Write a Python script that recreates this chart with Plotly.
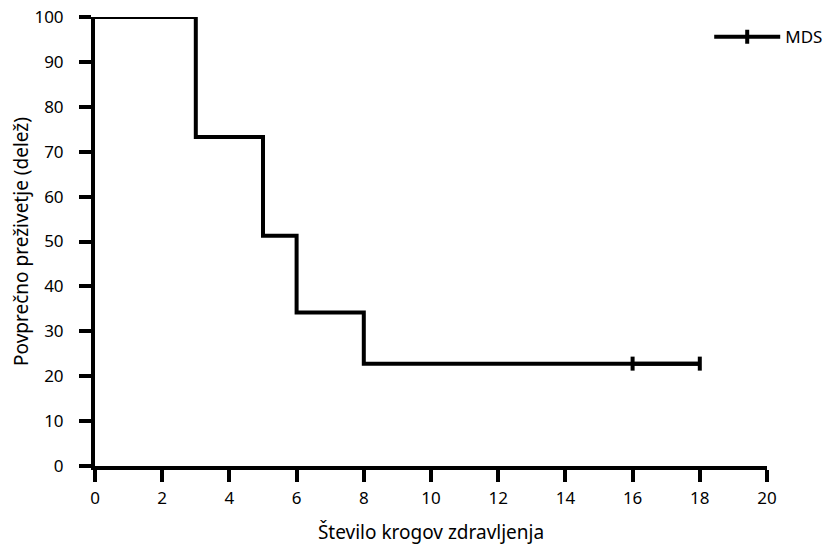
import plotly.graph_objects as go

# Kaplan-Meier step data
cycles = [0, 3, 5, 6, 8, 16, 18]
survival = [100, 73.3, 51.3, 34.2, 22.8, 22.8, 22.8]
censor_x = [16, 18]
censor_y = [22.8, 22.8]
series_name = "MDS"

x_ticks = list(range(0, 21, 2))
y_ticks = list(range(0, 101, 10))

fig = go.Figure()
fig.add_trace(go.Scatter(
    x=cycles, y=survival, name=series_name, showlegend=False,
    mode="lines",
    line=dict(shape="hv", color="black", width=4),
    cliponaxis=False,
))
fig.add_trace(go.Scatter(
    x=censor_x, y=censor_y, name=series_name, showlegend=True,
    mode="lines+markers",
    line=dict(color="black", width=4),
    marker=dict(symbol="line-ns", size=10, color="black",
                line=dict(color="black", width=4)),
    cliponaxis=False,
))

font_family = "Noto Sans, Open Sans, sans-serif"
fig.update_layout(
    width=827, height=539,
    margin=dict(l=87, r=68, t=9, b=81, autoexpand=False),
    paper_bgcolor="white", plot_bgcolor="white",
    font=dict(family=font_family, size=17, color="black"),
    showlegend=True,
    legend=dict(x=0.914, y=0.995, xanchor="left", yanchor="top",
                bgcolor="rgba(0,0,0,0)", itemwidth=66,
                font=dict(size=17)),
    xaxis=dict(range=[0, 20], tickvals=x_ticks, showline=True, linecolor="black",
               linewidth=4, ticks="outside", ticklen=12, tickwidth=4, tickcolor="black",
               showgrid=False, zeroline=False, automargin=False, ticklabelstandoff=2,
               ticklabeloverflow="allow", tickfont=dict(size=17),
               title=dict(text="Število krogov zdravljenja", standoff=18, font=dict(size=19))),
    yaxis=dict(range=[0, 100], tickvals=y_ticks, showline=True, linecolor="black",
               linewidth=4, ticks="outside", ticklen=12, tickwidth=4, tickcolor="black",
               showgrid=False, zeroline=False, automargin=False, ticklabelstandoff=12,
               ticklabeloverflow="allow", tickfont=dict(size=17),
               title=dict(text="Povprečno preživetje (delež)", standoff=12, font=dict(size=19))),
)

fig.write_html("out.html")
